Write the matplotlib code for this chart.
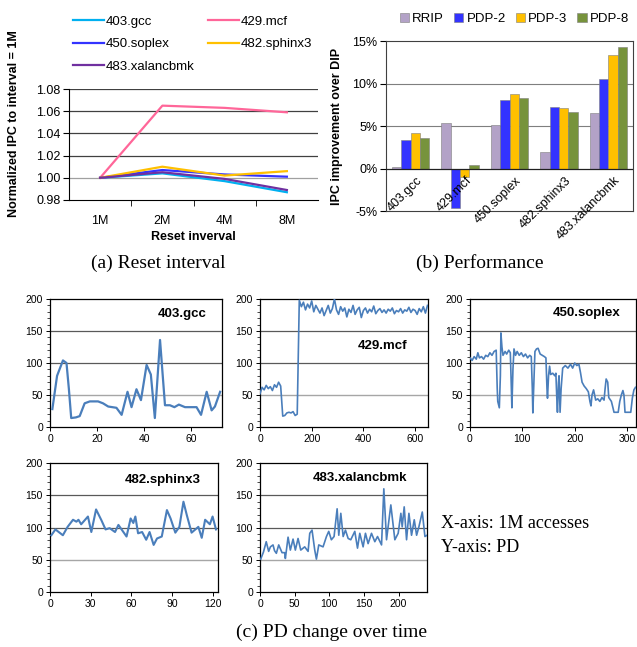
import numpy as np
import matplotlib.pyplot as plt
from matplotlib.ticker import MultipleLocator, FuncFormatter
from matplotlib.patches import Patch

plt.rcParams['font.family'] = ['Liberation Sans', 'DejaVu Sans']

# (a) reset interval, IPC normalised to 1M
intervals = ['1M', '2M', '4M', '8M']
gcc_ipc = [1.000, 1.004, 0.997, 0.987]
mcf_ipc = [1.000, 1.065, 1.063, 1.059]
soplex_ipc = [1.000, 1.007, 1.003, 1.001]
sphinx_ipc = [1.000, 1.010, 1.002, 1.006]
xalanc_ipc = [1.000, 1.005, 0.999, 0.989]

# (b) IPC improvement over DIP (%)
benchmarks = ['403.gcc', '429.mcf', '450.soplex', '482.sphinx3', '483.xalancbmk']
rrip = [0.2, 5.4, 5.1, 1.9, 6.5]
pdp2 = [3.4, -4.7, 8.1, 7.2, 10.5]
pdp3 = [4.2, -1.0, 8.8, 7.1, 13.4]
pdp8 = [3.6, 0.4, 8.3, 6.7, 14.3]

# (c) PD over time (x in 1M accesses)
gcc_t = [1, 3, 5.5, 7, 8, 9, 11, 12.6, 14.7, 16.9, 20.4, 22.5, 24.7, 28.2, 30.4,
         32.9, 34.6, 36.7, 38.6, 41, 42.8, 44.5, 46.7, 48.8, 50.9, 52.8, 54.7,
         57.3, 62.2, 64.1, 66.5, 68.6, 70, 72.2]
gcc_pd = [28, 80, 104, 100, 60, 14, 15, 17, 37, 40, 40, 37, 32, 30, 19, 55, 31,
          59, 42, 97, 82, 14, 136, 34, 34, 31, 35, 31, 31, 19, 55, 26, 32, 55]

mcf_pd = [52, 62, 58, 65, 60, 63, 57, 66, 62, 70, 64,
          17, 18, 22, 23, 22, 24, 18, 20,
          198, 188, 195, 183, 192, 186, 197, 180, 190, 184,
          178, 186, 174, 182, 190, 178, 185, 200, 183, 176,
          188, 181, 186, 172, 184, 179, 190, 176, 183, 187,
          171, 182, 186, 178, 184, 180, 189, 177, 182, 185,
          179, 183, 178, 184, 181, 186, 177, 182, 180, 185,
          178, 183, 181, 187, 179, 184, 182, 176, 185, 180,
          188, 178, 190]
mcf_t = np.arange(len(mcf_pd)) * 8

soplex_t = [0, 4, 8, 12, 15, 18, 22, 26, 30, 34, 38, 42, 46, 50, 52, 53, 56, 58,
            59, 61, 63, 67, 70, 74, 77, 79, 80, 82, 84, 87, 90, 94, 98, 102, 106,
            110, 114, 117, 119, 120, 122, 124, 127, 130, 134, 138, 142, 145, 147,
            148, 150, 152, 154, 158, 162, 164, 166, 167, 169, 170, 172, 174, 177,
            182, 187, 192, 196, 200, 204, 208, 211, 214, 218, 222, 226, 229, 231,
            233, 236, 240, 244, 248, 252, 256, 258, 260, 263, 265, 270, 273, 275,
            283, 286, 289, 292, 294, 296, 307, 310, 313, 316]
soplex_pd = [108, 104, 110, 106, 116, 108, 110, 106, 112, 110, 116, 112, 118, 120,
             60, 40, 30, 80, 147, 125, 112, 118, 114, 120, 116, 60, 30, 90, 122,
             112, 118, 112, 116, 110, 114, 108, 112, 110, 60, 22, 70, 118, 122,
             123, 114, 112, 110, 108, 60, 45, 80, 95, 82, 84, 80, 84, 40, 23, 70,
             80, 23, 60, 92, 96, 92, 98, 92, 100, 96, 98, 85, 70, 64, 60, 55, 40,
             33, 50, 58, 42, 44, 40, 46, 42, 60, 75, 70, 46, 40, 30, 23, 23, 40,
             50, 57, 50, 23, 23, 45, 58, 62]

sphinx_t = [1, 4, 9.5, 13, 17, 19.5, 21, 23, 28, 30.5, 34, 38, 41, 44, 46, 48,
            50.5, 56.5, 59.5, 61.5, 63, 65, 68, 71, 73.5, 76.5, 79, 82.5, 86.3, 89,
            92.5, 95.5, 98.5, 101, 104.5, 109.5, 112, 114.5, 118, 120, 122.5]
sphinx_pd = [88, 97, 88, 101, 112, 109, 112, 105, 117, 93, 128, 111, 97, 99, 96,
             93, 104, 86, 114, 107, 117, 91, 93, 81, 93, 73, 83, 86, 127, 114, 92,
             101, 140, 119, 92, 101, 84, 112, 105, 117, 97]

xalanc_t = [1, 5, 9, 12.5, 15, 18.8, 21, 23.6, 27, 31.8, 35.6, 36.6, 40.5, 43.8,
            47.7, 51, 54.9, 58.8, 64.5, 69.4, 71.8, 75.1, 79, 81.4, 84.8, 91, 95.9,
            99.2, 103, 106.9, 111.3, 113.7, 116.6, 120, 123.3, 127.2, 131, 136.8,
            140.7, 144, 148.8, 152.2, 156, 160.9, 165.7, 169.6, 175.4, 178.7, 182.6,
            188.8, 194.6, 199.4, 203.3, 205.2, 208.1, 211.5, 214.9, 218.7, 222.6,
            226, 229.3, 234.2, 238, 241]
xalanc_pd = [51, 62, 78, 63, 70, 73, 64, 60, 73, 61, 61, 52, 85, 65, 82, 65, 83,
             65, 70, 63, 91, 96, 65, 51, 73, 70, 86, 94, 81, 86, 129, 88, 122, 86,
             96, 83, 81, 94, 68, 91, 70, 91, 75, 91, 78, 86, 73, 160, 81, 135, 81,
             91, 122, 101, 132, 81, 122, 88, 112, 88, 101, 124, 86, 88]

W, H = 637, 647
fig = plt.figure(figsize=(W / 100, H / 100), dpi=100)


def rect(x0, y0, x1, y1):
    # pixel box (top-left origin) -> figure fraction
    return [x0 / W, 1 - y1 / H, (x1 - x0) / W, (y1 - y0) / H]


# ---------- (a) ----------
ax = fig.add_axes(rect(69, 89, 318, 200))
xs = np.arange(len(intervals))
series_a = [('403.gcc', gcc_ipc, '#00b0f0'), ('429.mcf', mcf_ipc, '#ff6699'),
            ('450.soplex', soplex_ipc, '#3333ff'), ('482.sphinx3', sphinx_ipc, '#ffc000'),
            ('483.xalancbmk', xalanc_ipc, '#7030a0')]
lines = {}
for name, vals, col in series_a:
    lines[name], = ax.plot(xs, vals, color=col, lw=1.6, zorder=3)
ax.set_xlim(-0.5, 3.5)
ax.set_ylim(0.98, 1.08)
ax.set_yticks(np.arange(0.98, 1.081, 0.02))
ax.yaxis.set_major_formatter(FuncFormatter(lambda v, p: '%.2f' % v))
for y in [1.02, 1.04, 1.06, 1.08]:
    ax.axhline(y, color='#404040', lw=0.9, zorder=1)
ax.axhline(1.00, color='#a0a0a0', lw=0.9, zorder=1)
ax.set_xticks(xs, intervals)
ax.set_xticks([0.5, 1.5, 2.5], minor=True)
ax.tick_params(axis='x', which='major', length=0, labelsize=9, pad=11)
ax.tick_params(axis='x', which='minor', length=4, direction='out')
ax.tick_params(axis='y', labelsize=9, length=4, pad=2)
for s in ['top', 'right']:
    ax.spines[s].set_visible(False)
ax.set_xlabel('Reset inverval', fontsize=9, fontweight='bold', labelpad=3)
ax.set_ylabel('Normalized IPC to interval = 1M', fontsize=9, fontweight='bold')
ax.yaxis.set_label_coords(-0.195, 0.685)
order = ['403.gcc', '450.soplex', '483.xalancbmk', '429.mcf', '482.sphinx3']
fig.legend([lines[n] for n in order], order, ncol=2, loc='upper left',
           bbox_to_anchor=(66 / W, 1 - 9 / H), frameon=False, fontsize=9.5,
           handlelength=2.4, handletextpad=0.1, columnspacing=1.0,
           labelspacing=0.78, borderpad=0)
fig.text(158 / W, 1 - 263 / H, '(a) Reset interval', family='Liberation Serif',
         fontsize=14, ha='center', va='center')

# ---------- (b) ----------
bx = fig.add_axes(rect(386, 41, 633, 211))
xb = np.arange(len(benchmarks))
bw = 0.19
bar_sets = [('RRIP', rrip, '#b3a2c7'), ('PDP-2', pdp2, '#3333ff'),
            ('PDP-3', pdp3, '#ffc000'), ('PDP-8', pdp8, '#77933c')]
handles = []
for i, (name, vals, col) in enumerate(bar_sets):
    bx.bar(xb + (i - 1.5) * bw, vals, bw, color=col, edgecolor='#7f7f7f',
           linewidth=0.4, zorder=3)
    handles.append(Patch(facecolor=col, edgecolor='#7f7f7f', linewidth=0.4))
bx.set_xlim(-0.5, len(benchmarks) - 0.5)
bx.set_ylim(-5, 15)
bx.set_yticks([-5, 0, 5, 10, 15])
bx.yaxis.set_major_formatter(FuncFormatter(lambda v, p: '%d%%' % v))
for y in [5, 10]:
    bx.axhline(y, color='#7f7f7f', lw=0.8, zorder=1)
bx.axhline(0, color='#202020', lw=0.9, zorder=4)
bx.set_xticks([])
bx.tick_params(axis='y', labelsize=9, length=4, pad=2)
for s in bx.spines.values():
    s.set_color('#404040')
    s.set_linewidth(0.8)
for i, name in enumerate(benchmarks):
    bx.text(i + 0.12, -0.7, name, rotation=45, rotation_mode='anchor',
            ha='right', va='top', fontsize=9, zorder=5)
bx.set_ylabel('IPC improvement over DIP', fontsize=9, fontweight='bold')
bx.yaxis.set_label_coords(-0.175, 0.5)
fig.legend(handles, [b[0] for b in bar_sets], ncol=4, loc='upper left',
           bbox_to_anchor=(393 / W, 1 - 6 / H), frameon=False, fontsize=9.5,
           handlelength=0.7, handleheight=0.7, handletextpad=0.25,
           columnspacing=0.75, borderpad=0)
fig.text(480 / W, 1 - 263 / H, '(b) Performance', family='Liberation Serif',
         fontsize=14, ha='center', va='center')

# ---------- (c) ----------
LINE = '#4a7ebb'


def pd_panel(box, t, vals, xmax, xstep, name, nx, ny, lw=1.2):
    a = fig.add_axes(rect(*box))
    a.plot(t, vals, color=LINE, lw=lw, zorder=3)
    a.set_xlim(0, xmax)
    a.set_ylim(0, 200)
    a.set_xticks(np.arange(0, xmax, xstep))
    a.set_yticks([0, 50, 100, 150, 200])
    a.yaxis.set_minor_locator(MultipleLocator(10))
    a.axhline(50, color='#a6a6a6', lw=1.0, zorder=1)
    a.axhline(100, color='#595959', lw=0.9, zorder=1)
    a.axhline(150, color='#595959', lw=0.9, zorder=1)
    a.tick_params(labelsize=7.5, length=3, width=0.7, pad=2)
    a.tick_params(which='minor', length=2, width=0.5)
    for s in a.spines.values():
        s.set_linewidth(0.9)
    a.text(nx, ny, name, transform=a.transAxes, fontsize=9.5, fontweight='bold',
           ha='center', va='center')
    return a


pd_panel((50, 299, 222, 427), gcc_t, gcc_pd, 73, 20, '403.gcc', 0.77, 0.88, lw=1.6)
pd_panel((260, 299, 428, 427), mcf_t, mcf_pd, 650, 200, '429.mcf', 0.73, 0.63)
pd_panel((470, 299, 636, 427), soplex_t, soplex_pd, 317, 100, '450.soplex', 0.70, 0.89)
pd_panel((50, 463, 218, 592), sphinx_t, sphinx_pd, 124, 30, '482.sphinx3', 0.67, 0.87, lw=1.5)
pd_panel((260, 463, 427, 592), xalanc_t, xalanc_pd, 241, 50, '483.xalancbmk', 0.60, 0.88)

fig.text(441 / W, 1 - 524 / H, 'X-axis: 1M accesses', family='Liberation Serif',
         fontsize=13, ha='left', va='center')
fig.text(441 / W, 1 - 547 / H, 'Y-axis: PD', family='Liberation Serif',
         fontsize=13, ha='left', va='center')
fig.text(332 / W, 1 - 632 / H, '(c) PD change over time', family='Liberation Serif',
         fontsize=14, ha='center', va='center')

fig.savefig('out.png', dpi=100, facecolor='white')
